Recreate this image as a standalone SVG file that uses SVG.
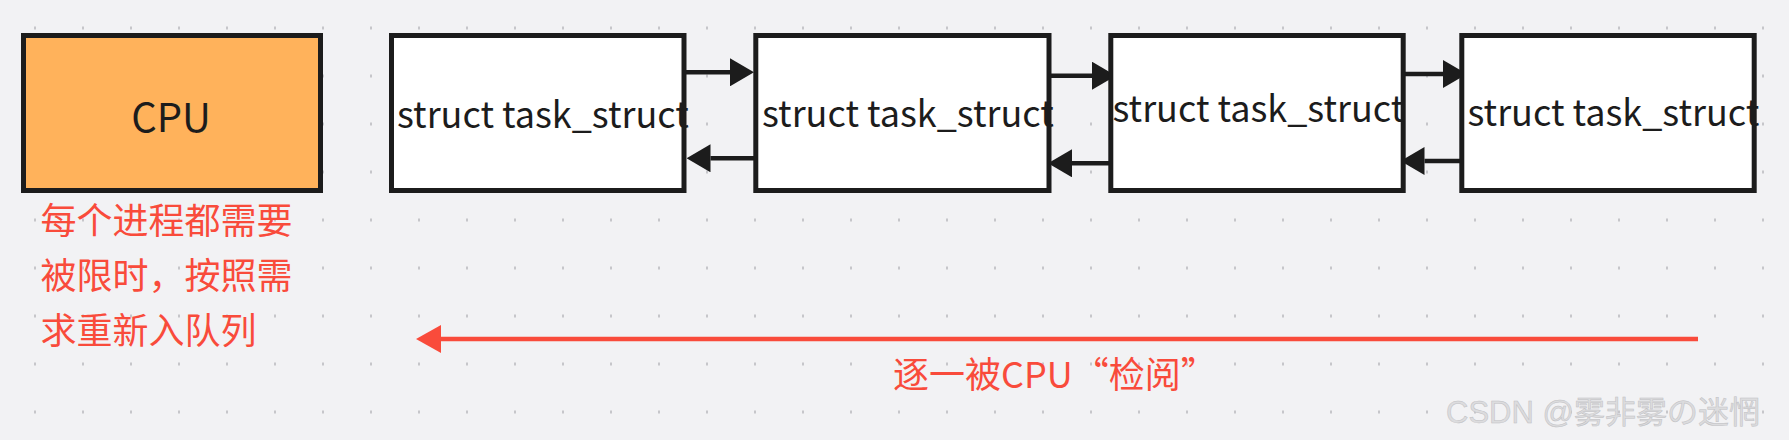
<svg xmlns="http://www.w3.org/2000/svg" width="1789" height="440" viewBox="0 0 1789 440">
  <defs>
    <style>
      .box { fill: #ffffff; stroke: #1c1c1c; stroke-width: 5; }
      .cpu { fill: #ffb25b; stroke: #1c1c1c; stroke-width: 5; }
      .label { font-family: "Noto Sans CJK SC", sans-serif; fill: #1c1c1c; }
      .note { font-family: "Noto Sans CJK SC", sans-serif; fill: #f94b3b; font-size: 36px; }
      .link { stroke: #1c1c1c; stroke-width: 4.5; fill: none; marker-end: url(#head); }
      .flow { stroke: #f94b3b; stroke-width: 4.5; fill: none; marker-end: url(#headRed); }
      .mark { font-family: "Liberation Sans", "Noto Sans CJK JP", sans-serif; font-size: 31px; fill: #dcdcde; stroke: #c0c0c3; stroke-width: 0.5; }
    </style>
    <!-- dotted canvas grid, 48px pitch -->
    <pattern id="grid" patternUnits="userSpaceOnUse" x="0" y="0" width="48" height="48">
      <rect x="34" y="26.5" width="2" height="3" fill="#c6c6ca"/>
    </pattern>
    <!-- arrowheads: base sits on the line end, tip points ahead -->
    <marker id="head" markerUnits="userSpaceOnUse" viewBox="0 0 24 28" refX="0" refY="14" markerWidth="24" markerHeight="28" orient="auto">
      <path d="M0,0 L24,14 L0,28 Z" fill="#1c1c1c"/>
    </marker>
    <marker id="headRed" markerUnits="userSpaceOnUse" viewBox="0 0 25 28" refX="0" refY="14" markerWidth="25" markerHeight="28" orient="auto">
      <path d="M0,0 L25,14 L0,28 Z" fill="#f94b3b"/>
    </marker>
  </defs>

  <rect width="1789" height="440" fill="#f2f2f4"/>
  <rect width="1789" height="440" fill="url(#grid)"/>

  <!-- connectors between the queued tasks, and the review sweep -->
  <g id="connectors">
    <line class="link" x1="684" y1="72.3" x2="730" y2="72.3"/>
    <line class="link" x1="756" y1="158.3" x2="710.5" y2="158.3"/>
    <line class="link" x1="1049" y1="75.7" x2="1092" y2="75.7"/>
    <line class="link" x1="1116" y1="163.3" x2="1072" y2="163.3"/>
    <line class="link" x1="1399" y1="74" x2="1443" y2="74"/>
    <line class="link" x1="1467" y1="161" x2="1424.5" y2="161"/>
    <line class="flow" x1="1698" y1="339" x2="441" y2="339"/>
  </g>

  <g id="cpu">
    <rect class="cpu" x="23.5" y="35.5" width="297" height="155"/>
    <text class="label" x="171" y="132" font-size="40" text-anchor="middle">CPU</text>
  </g>

  <g id="task1">
    <rect class="box" x="391.5" y="35.5" width="292.5" height="155"/>
    <text class="label" x="397" y="127.7" font-size="36">struct task_struct</text>
  </g>

  <g id="task2">
    <rect class="box" x="755.8" y="35.5" width="293.2" height="155"/>
    <text class="label" x="762" y="126.7" font-size="36">struct task_struct</text>
  </g>

  <g id="task3">
    <rect class="box" x="1110.8" y="35.5" width="292.4" height="155"/>
    <text class="label" x="1112.5" y="121.7" font-size="36">struct task_struct</text>
  </g>

  <g id="task4">
    <rect class="box" x="1461.8" y="35.5" width="292.4" height="155"/>
    <text class="label" x="1467.5" y="126" font-size="36">struct task_struct</text>
  </g>

  <g id="note-requeue">
    <text class="note" x="40.5" y="234">每个进程都需要</text>
    <text class="note" x="40.5" y="289">被限时，按照需</text>
    <text class="note" x="40.5" y="344">求重新入队列</text>
  </g>

  <g id="note-review">
    <text class="note" x="893" y="387.5">逐一被CPU“检阅”</text>
  </g>

  <text class="mark" x="1446" y="423">CSDN @雾非雾の迷惘</text>
</svg>
